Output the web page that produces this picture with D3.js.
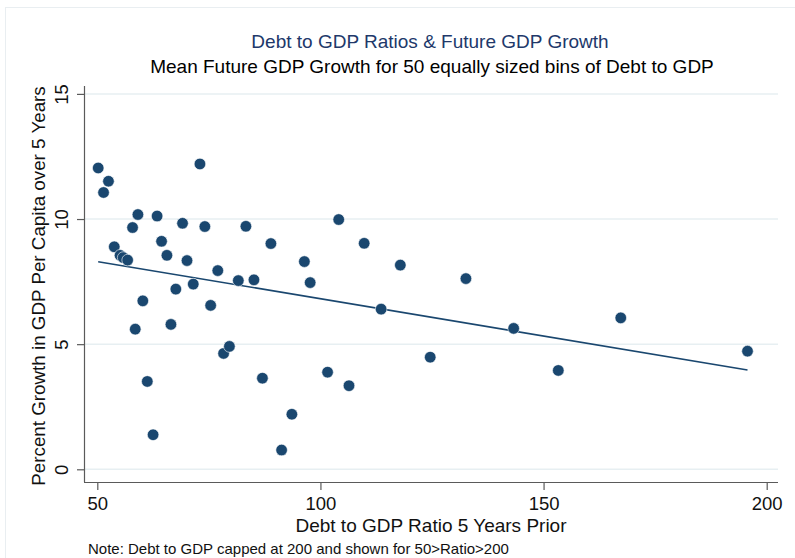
<!DOCTYPE html>
<html>
<head>
<meta charset="utf-8">
<script src="https://cdn.jsdelivr.net/npm/d3@7"></script>
<style>
  html, body { margin: 0; padding: 0; background: #ffffff; }
  svg { display: block; font-family: "Liberation Sans", Arial, Helvetica, sans-serif; }
</style>
</head>
<body>
<svg id="chart" width="795" height="558"></svg>
<script>
// Mean 5-year-ahead GDP per capita growth (%) per debt-to-GDP bin
const debtRatio = [
  50.2, 52.5, 51.4, 53.8, 55.1, 55.8, 56.8, 57.9, 59.1, 58.5,
  60.2, 61.2, 62.5, 63.4, 64.4, 65.6, 66.5, 67.6, 69.1, 70.1,
  71.5, 73.0, 74.1, 75.4, 77.0, 78.3, 79.6, 81.6, 83.3, 85.1,
  87.0, 88.9, 91.3, 93.6, 96.4, 97.7, 101.6, 104.1, 106.4, 109.8,
  113.6, 117.9, 124.6, 132.6, 143.3, 153.3, 167.3, 195.7
];
const futureGrowth = [
  12.04, 11.51, 11.06, 8.89, 8.55, 8.46, 8.36, 9.66, 10.18, 5.60,
  6.73, 3.51, 1.38, 10.12, 9.11, 8.55, 5.79, 7.20, 9.83, 8.34,
  7.40, 12.20, 9.70, 6.55, 7.94, 4.63, 4.91, 7.54, 9.71, 7.57,
  3.64, 9.02, 0.77, 2.20, 8.30, 7.46, 3.88, 9.98, 3.34, 9.03,
  6.40, 8.16, 4.48, 7.62, 5.63, 3.95, 6.05, 4.72
];
// Linear fit: growth = intercept + slope * ratio
const fitIntercept = [9.79];
const fitSlope = [-0.02976];
const xTicks = [50, 100, 150, 200];
const yTicks = [0, 5, 10, 15];

const titleText = "Debt to GDP Ratios & Future GDP Growth";
const subtitleText = "Mean Future GDP Growth for 50 equally sized bins of Debt to GDP";
const xLabel = "Debt to GDP Ratio 5 Years Prior";
const yLabel = "Percent Growth in GDP Per Capita over 5 Years";
const noteText = "Note: Debt to GDP capped at 200 and shown for 50>Ratio>200";

const svg = d3.select("#chart");
const navy = "#1a476f";
const axisColor = "#5a5a5a";
const fontStack = "\"Liberation Sans\", Arial, sans-serif";

const plot = { left: 84, right: 778, top: 86, bottom: 482 };
const x = d3.scaleLinear().domain([50, 200]).range([97.3, 766.7]);
const y = d3.scaleLinear().domain([0, 15]).range([469.3, 93.9]);

// faint outer frame
svg.append("rect")
  .attr("x", 5.5).attr("y", 7.5)
  .attr("width", 820).attr("height", 600)
  .attr("fill", "none")
  .attr("stroke", "#e9eef1")
  .attr("stroke-width", 1);

// horizontal gridlines
svg.append("g").selectAll("line").data(yTicks).join("line")
  .attr("x1", plot.left).attr("x2", plot.right)
  .attr("y1", d => y(d)).attr("y2", d => y(d))
  .attr("stroke", "#e7eff2")
  .attr("stroke-width", 1.5);

// y axis
const yAxis = svg.append("g")
  .attr("transform", `translate(${plot.left},0)`)
  .call(d3.axisLeft(y).tickValues(yTicks).tickSize(7).tickSizeOuter(0).tickFormat(d3.format("d")));
yAxis.select(".domain").remove();
yAxis.append("line")
  .attr("x1", 0.5).attr("x2", 0.5)
  .attr("y1", plot.top).attr("y2", plot.bottom)
  .attr("stroke", axisColor).attr("stroke-width", 1.2);
yAxis.selectAll(".tick line").attr("stroke", axisColor).attr("stroke-width", 1.2);
yAxis.selectAll(".tick text")
  .attr("x", null).attr("dy", null)
  .attr("transform", "translate(-16,0) rotate(-90)")
  .attr("text-anchor", "middle")
  .attr("fill", "#111")
  .style("font-size", "18.5px")
  .style("font-family", fontStack);

// x axis
const xAxis = svg.append("g")
  .attr("transform", `translate(0,${plot.bottom})`)
  .call(d3.axisBottom(x).tickValues(xTicks).tickSize(8).tickSizeOuter(0).tickFormat(d3.format("d")));
xAxis.select(".domain").remove();
xAxis.append("line")
  .attr("x1", plot.left).attr("x2", plot.right)
  .attr("y1", 0.5).attr("y2", 0.5)
  .attr("stroke", axisColor).attr("stroke-width", 1.2);
xAxis.selectAll(".tick line").attr("stroke", axisColor).attr("stroke-width", 1.2);
xAxis.selectAll(".tick text")
  .attr("y", 28).attr("dy", null)
  .attr("fill", "#111")
  .style("font-size", "18.5px")
  .style("font-family", fontStack);

// fitted line across the observed range
const xMin = d3.min(debtRatio), xMax = d3.max(debtRatio);
const fitPts = [xMin, xMax].map(v => [v, fitIntercept[0] + fitSlope[0] * v]);
svg.append("path")
  .datum(fitPts)
  .attr("d", d3.line().x(d => x(d[0])).y(d => y(d[1])))
  .attr("fill", "none")
  .attr("stroke", navy)
  .attr("stroke-width", 1.6);

// bin means
svg.append("g").selectAll("circle").data(debtRatio.map((d, i) => [d, futureGrowth[i]])).join("circle")
  .attr("cx", d => x(d[0]))
  .attr("cy", d => y(d[1]))
  .attr("r", 5.8)
  .attr("fill", navy)
  .attr("stroke", "#ffffff")
  .attr("stroke-width", 0.6);

// titles
svg.append("text")
  .attr("x", 430).attr("y", 48)
  .attr("text-anchor", "middle")
  .attr("fill", "#21386a")
  .style("font-size", "19px")
  .text(titleText);
svg.append("text")
  .attr("x", 432).attr("y", 73)
  .attr("text-anchor", "middle")
  .attr("fill", "#000")
  .style("font-size", "19px")
  .text(subtitleText);

// axis titles
svg.append("text")
  .attr("x", 431).attr("y", 532)
  .attr("text-anchor", "middle")
  .attr("fill", "#111")
  .style("font-size", "19px")
  .text(xLabel);
svg.append("text")
  .attr("transform", "translate(45,286) rotate(-90)")
  .attr("text-anchor", "middle")
  .attr("fill", "#111")
  .style("font-size", "18.8px")
  .text(yLabel);

// note
svg.append("text")
  .attr("x", 88).attr("y", 554)
  .attr("fill", "#111")
  .style("font-size", "15px")
  .text(noteText);
</script>
</body>
</html>
